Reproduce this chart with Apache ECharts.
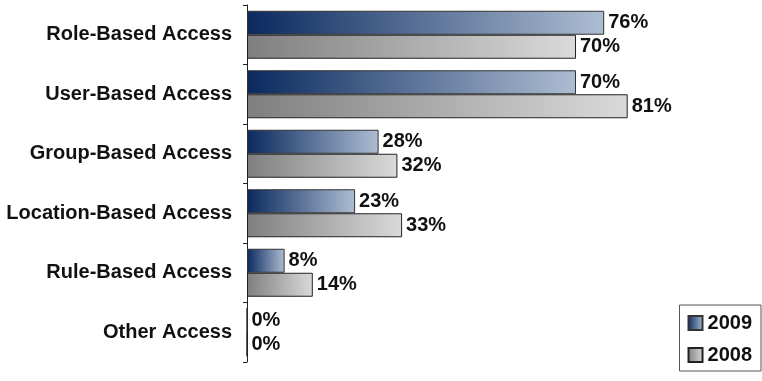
<!DOCTYPE html>
<html>
<head>
<meta charset="utf-8">
<style>
  html, body { margin: 0; padding: 0; background: #ffffff; }
  #chart { width: 762px; height: 381px; }
</style>
<script src="https://cdn.jsdelivr.net/npm/echarts@6/dist/echarts.min.js"></script>
</head>
<body>
<div id="chart"></div>
<script>
// Access-control methods in use, share of respondents by year
const categories = [
  'Role-Based Access',
  'User-Based Access',
  'Group-Based Access',
  'Location-Based Access',
  'Rule-Based Access',
  'Other Access'
];
const values2009 = [76, 70, 28, 23, 8, 0];
const values2008 = [70, 81, 32, 33, 14, 0];

const FONT = '"Liberation Sans", Arial, sans-serif';

function hGradient(from, to) {
  return new echarts.graphic.LinearGradient(0, 0, 1, 0, [
    { offset: 0, color: from },
    { offset: 1, color: to }
  ]);
}

const valueLabel = {
  show: true,
  position: 'right',
  distance: 4,
  formatter: '{c}%',
  fontFamily: FONT,
  fontWeight: 'bold',
  fontSize: 20,
  color: '#111111'
};

const chart = echarts.init(document.getElementById('chart'), null, { renderer: 'canvas' });
chart.setOption({
  animation: false,
  backgroundColor: '#ffffff',
  grid: { left: 247, top: 5, right: 45, bottom: 19, containLabel: false },
  legend: {
    orient: 'vertical',
    right: 1,
    bottom: 10,
    padding: [8, 9, 6, 8],
    itemGap: 12,
    itemWidth: 14,
    itemHeight: 14,
    borderColor: '#555555',
    borderWidth: 1,
    icon: 'rect',
    textStyle: { fontFamily: FONT, fontWeight: 'bold', fontSize: 20, color: '#111111' },
    data: ['2009', '2008']
  },
  xAxis: {
    type: 'value',
    min: 0,
    max: 100,
    show: false
  },
  yAxis: {
    type: 'category',
    data: categories,
    inverse: true,
    axisLine: { show: true, lineStyle: { color: '#222222', width: 1 } },
    axisTick: { show: true, length: 4, lineStyle: { color: '#222222' } },
    axisLabel: {
      margin: 15,
      fontFamily: FONT,
      fontWeight: 'bold',
      fontSize: 20,
      color: '#111111'
    },
    splitLine: { show: false }
  },
  series: [
    {
      name: '2009',
      type: 'bar',
      data: values2009,
      barWidth: 24,
      barGap: '0%',
      barCategoryGap: '19%',
      itemStyle: {
        color: hGradient('#0a295e', '#adbdd2'),
        borderColor: '#333333',
        borderWidth: 1
      },
      label: valueLabel
    },
    {
      name: '2008',
      type: 'bar',
      data: values2008,
      barWidth: 24,
      itemStyle: {
        color: hGradient('#7f7f7f', '#dadada'),
        borderColor: '#222222',
        borderWidth: 1
      },
      label: valueLabel
    }
  ]
});
</script>
</body>
</html>
